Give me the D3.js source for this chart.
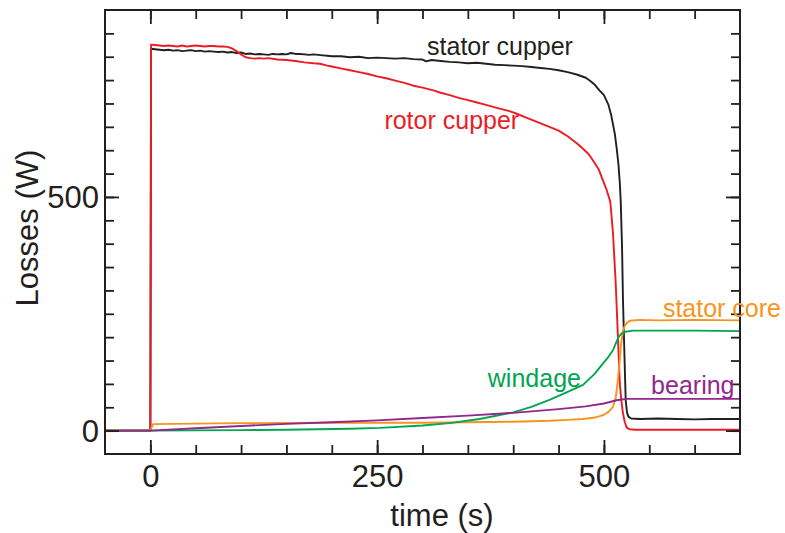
<!DOCTYPE html>
<html>
<head>
<meta charset="utf-8">
<script src="https://cdn.jsdelivr.net/npm/d3@7"></script>
<style>
  html, body { margin: 0; padding: 0; background: #fff; }
  svg { display: block; }
  text { font-family: "Liberation Sans", Arial, Helvetica, sans-serif; }
</style>
</head>
<body>
<svg id="chart" width="785" height="533"></svg>
<script>
// Loss components during a run, [time (s), loss (W)]
const statorCupper = [[-50,0],[0,0],[0.8,817],[5,816],[10,815],[15,814],[20,815],[25,813],[30,814],[35,812],[40,813],[45,814],[50,812],[55,813],[60,811],[65,812],[70,811],[75,810],[80,811],[85,809],[90,810],[95,808],[100,809],[105,806],[110,807],[115,805],[120,806],[125,805],[130,804],[135,806],[140,805],[145,806],[150,805],[155,808],[160,806],[165,806],[170,805],[175,804],[180,805],[185,804],[190,803],[195,802],[200,801],[210,801],[220,799],[230,800],[240,797],[250,798],[260,797],[270,796],[280,797],[290,795],[300,794],[304,790],[310,793],[320,791],[330,789],[340,788],[350,786],[360,787],[370,785],[380,783],[390,782],[400,781],[410,780],[420,778],[430,776],[440,774],[450,771],[460,767],[470,762],[480,755],[485,748],[490,740],[495,728],[500,718],[505,697],[508,675],[510,655],[512,635],[514,605],[516,570],[517.5,530],[518.5,492],[520,390],[521,280],[522.5,170],[524,65],[525.5,38],[527,30],[530,26],[540,25],[560,26],[580,25],[600,24],[620,25],[650,25]];

const rotorCupper = [[-50,0],[0,0],[0.8,826],[5,825],[10,824],[15,823],[20,824],[25,823],[30,822],[35,824],[40,822],[45,823],[50,824],[55,823],[60,822],[65,823],[70,823],[75,822],[80,822],[85,821],[90,818],[95,812],[100,805],[105,799],[110,797],[115,796],[120,797],[125,796],[130,797],[140,794],[150,793],[160,791],[170,788],[180,786],[187,785],[195,781],[200,779],[210,775],[220,771],[230,767],[240,763],[250,758],[260,754],[270,749],[280,744],[290,738],[300,734],[312,728],[320,723],[330,718],[340,712],[350,707],[360,702],[370,697],[385,689],[395,684],[404,678],[413,671],[422,664],[431,657],[440,650],[450,642],[460,630],[470,615],[477,603],[483,592],[488,578],[494,560],[499,535],[503,515],[507,490],[510,422],[513,315],[516,172],[517.5,101],[519,68],[521,37],[523,18],[525,7],[528,3],[535,2],[650,2]];

const statorCore = [[-50,0],[0,0],[3,14],[50,15],[100,16],[200,17],[300,17],[350,18],[400,19],[440,21],[460,23],[477,25],[490,28],[499,33],[505,40],[510,51],[513,70],[515,102],[517,140],[519,187],[521,212],[522.5,222],[525,230],[528.6,235],[540,237],[560,236],[600,237],[650,236]];

const windage = [[-50,0],[0,0],[100,1],[150,2],[220,4],[253,6],[300,11],[330,16],[363,25],[400,39],[420,51],[440,66],[460,83],[477,98],[490,122],[499,144],[505,158],[510,172],[513,186],[516,200],[519,207],[522,211],[532,214],[600,214],[650,213]];

const bearing = [[-50,0],[0,0],[50,5],[100,10],[150,14.5],[200,18],[250,22],[300,27],[350,32],[400,38],[450,46],[480,52],[500,58],[514,65],[525,68],[650,68]];

const seriesNames = ["stator cupper", "rotor cupper", "stator core", "windage", "bearing"];
const seriesData = [statorCupper, rotorCupper, statorCore, windage, bearing];
const seriesColors = ["#231f20", "#ed1c24", "#f7941d", "#00a651", "#92278f"];

// Label anchors (text start, baseline) in data units [time, loss]
const labelPos = [[305, 804], [258, 645], [565, 243], [372, 93], [552, 78]];

const xMajor = [0, 250, 500];
const xMinor = [0, 50, 100, 150, 200, 250, 300, 350, 400, 450, 500, 550, 600];
const yMajor = [0, 500];
const yMinor = [0, 50, 100, 150, 200, 250, 300, 350, 400, 450, 500, 550, 600, 650, 700, 750, 800, 850];

const ink = "#231f20";
const svg = d3.select("#chart");
const L = 105, R = 740, T = 10, B = 454;

const x = d3.scaleLinear().domain([-50, 650]).range([L, R]);
const y = d3.scaleLinear().domain([-50, 900]).range([B, T]);

const line = d3.line().x(d => x(d[0])).y(d => y(d[1]));

// data lines
const g = svg.append("g");
seriesData.forEach((s, i) => {
  g.append("path")
    .datum(s)
    .attr("d", line)
    .attr("fill", "none")
    .attr("stroke", seriesColors[i])
    .attr("stroke-width", 1.9)
    .attr("stroke-linejoin", "round");
});

// inward ticks on all four sides
function styleAxis(sel) {
  sel.select(".domain").remove();
  sel.selectAll(".tick line").attr("stroke", ink).attr("stroke-width", 1.8);
}
const minorLen = 9, majorLen = 14;

svg.append("g").attr("transform", `translate(0,${B})`)
  .call(d3.axisBottom(x).tickValues(xMinor).tickSize(-minorLen).tickFormat(""))
  .call(styleAxis);
svg.append("g").attr("transform", `translate(0,${T})`)
  .call(d3.axisTop(x).tickValues(xMinor).tickSize(-minorLen).tickFormat(""))
  .call(styleAxis);
svg.append("g").attr("transform", `translate(${L},0)`)
  .call(d3.axisLeft(y).tickValues(yMinor).tickSize(-minorLen).tickFormat(""))
  .call(styleAxis);
svg.append("g").attr("transform", `translate(${R},0)`)
  .call(d3.axisRight(y).tickValues(yMinor).tickSize(-minorLen).tickFormat(""))
  .call(styleAxis);

const xb = svg.append("g").attr("transform", `translate(0,${B})`)
  .call(d3.axisBottom(x).tickValues(xMajor).tickSize(-majorLen).tickPadding(0).tickFormat(d3.format("d")))
  .call(styleAxis);
xb.selectAll(".tick text").attr("y", 33).attr("dy", 0)
  .attr("font-size", 31).attr("fill", ink).attr("font-family", null);

svg.append("g").attr("transform", `translate(0,${T})`)
  .call(d3.axisTop(x).tickValues(xMajor).tickSize(-majorLen).tickFormat(""))
  .call(styleAxis);

const yl = svg.append("g").attr("transform", `translate(${L},0)`)
  .call(d3.axisLeft(y).tickValues(yMajor).tickSize(-majorLen).tickFormat(d3.format("d")))
  .call(styleAxis);
yl.selectAll(".tick text").attr("x", -6).attr("dy", 11)
  .attr("font-size", 31).attr("fill", ink).attr("font-family", null);

svg.append("g").attr("transform", `translate(${R},0)`)
  .call(d3.axisRight(y).tickValues(yMajor).tickSize(-majorLen).tickFormat(""))
  .call(styleAxis);

// frame
svg.append("rect")
  .attr("x", L).attr("y", T).attr("width", R - L).attr("height", B - T)
  .attr("fill", "none").attr("stroke", ink).attr("stroke-width", 2);

// series labels
seriesNames.forEach((n, i) => {
  svg.append("text")
    .attr("x", x(labelPos[i][0]))
    .attr("y", y(labelPos[i][1]))
    .attr("font-size", 25)
    .attr("fill", seriesColors[i])
    .text(n);
});

// axis titles
svg.append("text")
  .attr("x", 442).attr("y", 526)
  .attr("text-anchor", "middle")
  .attr("font-size", 31).attr("fill", ink)
  .text("time (s)");

svg.append("text")
  .attr("transform", "translate(37.5,228) rotate(-90)")
  .attr("text-anchor", "middle")
  .attr("font-size", 31).attr("fill", ink)
  .text("Losses (W)");
</script>
</body>
</html>
